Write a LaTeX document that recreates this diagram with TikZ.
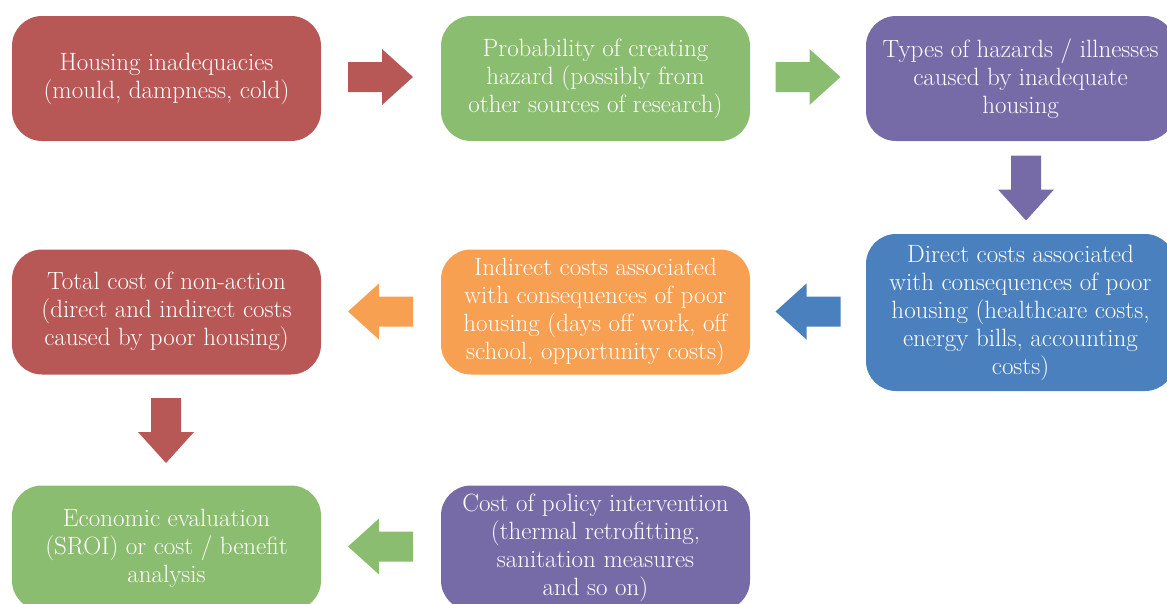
\documentclass[tikz,border=0pt]{standalone}
\usetikzlibrary{calc}
\definecolor{cred}{HTML}{B75856}
\definecolor{cgreen}{HTML}{8BBD70}
\definecolor{cpurple}{HTML}{776BA7}
\definecolor{cblue}{HTML}{4A80BD}
\definecolor{corange}{HTML}{F8A052}
\tikzset{
  box/.style={rectangle, rounded corners=30pt, minimum width=309pt, minimum height=125pt,
    text=white, align=center, inner sep=0pt,
    font=\fontsize{25}{28}\selectfont},
  barrow/.pic={\path[pic actions] (-32.5,-15) -- (1.5,-15) -- (1.5,-28) -- (32.5,0) -- (1.5,28) -- (1.5,15) -- (-32.5,15) -- cycle;}
}
\begin{document}
\begin{tikzpicture}[x=1pt,y=-1pt]
\useasboundingbox (0,0) rectangle (1167,603);
\clip (0,0) rectangle (1167,603);
\node[box, fill=cred] (b1) at (166.5,78.5) {Housing inadequacies\\(mould, dampness, cold)};
\node[box, fill=cgreen] (b2) at (595.5,78.5) {Probability of creating\\hazard (possibly from\\other sources of research)};
\node[box, fill=cpurple] (b3) at (1020.5,78.5) {Types of hazards / illnesses\\caused by inadequate\\housing};
\node[box, fill=cblue, minimum height=157pt] (b4) at (1020.5,312.5) {Direct costs associated\\with consequences of poor\\housing (healthcare costs,\\energy bills, accounting\\costs)};
\node[box, fill=corange] (b5) at (595.5,312) {Indirect costs associated\\with consequences of poor\\housing (days off work, off\\school, opportunity costs)};
\node[box, fill=cred] (b6) at (166.5,312) {Total cost of non-action\\(direct and indirect costs\\caused by poor housing)};
\node[box, fill=cgreen] (b7) at (166.5,548) {Economic evaluation\\(SROI) or cost / benefit\\analysis};
\node[box, fill=cpurple] (b8) at (595.5,548) {Cost of policy intervention\\(thermal retrofitting,\\sanitation measures\\and so on)};
\path (380.5,77) pic[fill=cred] {barrow};
\path (808,77) pic[fill=cgreen] {barrow};
\path (1026,188) pic[fill=cpurple, rotate=-90] {barrow};
\path (808,311.5) pic[fill=cblue, rotate=180] {barrow};
\path (380.5,311.5) pic[fill=corange, rotate=180] {barrow};
\path (166,430.5) pic[fill=cred, rotate=-90] {barrow};
\path (380.5,546.5) pic[fill=cgreen, rotate=180] {barrow};
\end{tikzpicture}
\end{document}
